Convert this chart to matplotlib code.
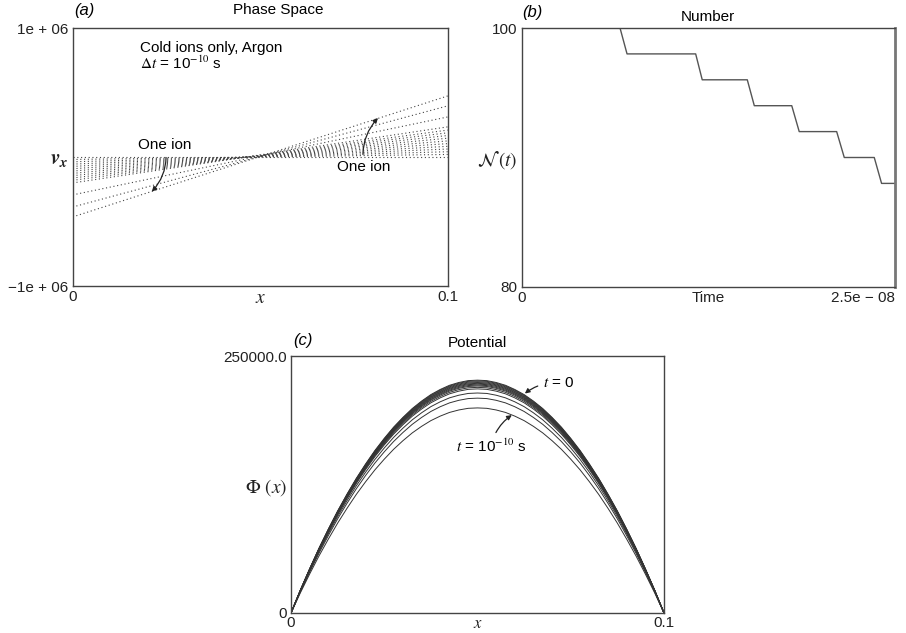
import matplotlib
matplotlib.use("Agg")
import matplotlib.pyplot as plt
import numpy as np

plt.rcParams['font.family'] = ['Liberation Sans', 'DejaVu Sans']
plt.rcParams['mathtext.fontset'] = 'stix'

# (a) phase space: ion velocity at the left (x=0) and right (x=0.1) edge per snapshot
x_ends = [0.0, 0.1]
v_left = [0, -0.18e5, -0.36e5, -0.54e5, -0.72e5, -0.9e5, -1.08e5, -1.26e5,
          -1.44e5, -1.62e5, -1.8e5, -2.0e5, -2.93e5, -3.87e5, -4.64e5]
v_right = [0, 0.21e5, 0.42e5, 0.63e5, 0.84e5, 1.05e5, 1.26e5, 1.47e5,
           1.68e5, 1.89e5, 2.1e5, 2.35e5, 3.12e5, 3.98e5, 4.75e5]

# (b) number of ions vs time
t_vals = [0, 0.657e-8, 0.704e-8, 1.164e-8, 1.208e-8, 1.51e-8, 1.557e-8,
          1.808e-8, 1.858e-8, 2.109e-8, 2.16e-8, 2.361e-8, 2.41e-8, 2.5e-8]
n_vals = [100, 100, 98, 98, 96, 96, 94, 94, 92, 92, 90, 90, 88, 88]

# (c) potential: normalised profile and peak value of each snapshot
phi_x = np.linspace(0, 0.1, 41)
phi_shape = [0, 0.098, 0.19, 0.278, 0.36, 0.438, 0.51, 0.578, 0.64, 0.698,
             0.75, 0.798, 0.84, 0.878, 0.91, 0.938, 0.96, 0.978, 0.99, 0.998,
             1.0,
             0.998, 0.99, 0.978, 0.96, 0.938, 0.91, 0.878, 0.84, 0.798, 0.75,
             0.698, 0.64, 0.578, 0.51, 0.438, 0.36, 0.278, 0.19, 0.098, 0]
phi_peaks = [226500, 225800, 225000, 224200, 223400, 222600, 221700,
             220800, 219500, 218000, 214000, 209000, 199500]

W, H = 906, 633
fig = plt.figure(figsize=(W / 100, H / 100), dpi=100)


def px_axes(l, t, r, b):
    return fig.add_axes([l / W, 1 - b / H, (r - l) / W, (b - t) / H])


def style(ax):
    for s in ax.spines.values():
        s.set_color('#444444')
        s.set_linewidth(1.0)
    ax.tick_params(length=0, pad=3, labelsize=11, colors='#222222')


ax1 = px_axes(72.7, 28.3, 447.7, 286)
ax2 = px_axes(522, 28, 895, 287)
ax3 = px_axes(291, 356, 664, 613)
for ax in (ax1, ax2, ax3):
    style(ax)

# ---- (a)
for vl, vr in zip(v_left, v_right):
    ax1.plot(x_ends, [vl, vr], color='#444444', lw=0.8,
             linestyle=(0, (1.0, 2.4)))
ax1.set_xlim(0, 0.1)
ax1.set_ylim(-1e6, 1e6)
ax1.set_xticks([0, 0.05, 0.1])
ax1.set_xticklabels(['0', r'$x$', '0.1'])
ax1.set_yticks([-1e6, 0, 1e6])
ax1.set_yticklabels(['\u22121e + 06', r'$\mathbfit{v_x}$', '1e + 06'])
ax1.get_yticklabels()[1].set_fontsize(15)
ax1.get_xticklabels()[1].set_fontsize(14)
ax1.text(0.03, 1.07, '(a)', transform=ax1.transAxes, fontsize=12,
         style='italic', ha='center', va='center')
ax1.text(0.548, 1.07, 'Phase Space', transform=ax1.transAxes, fontsize=11,
         ha='center', va='center')
ax1.text(0.018, 0.848e6, 'Cold ions only, Argon', fontsize=11,
         ha='left', va='center')
ax1.text(0.018, 0.73e6, r'$\Delta t$ = 10$^{-10}$ s', fontsize=11,
         ha='left', va='center')
arrow = dict(arrowstyle='-|>', color='#222222', lw=0.9,
             mutation_scale=7, shrinkA=2, shrinkB=0)
ax1.annotate('One ion', xy=(0.0211, -0.268e6), xytext=(0.0246, 0.095e6),
             fontsize=11, ha='center', va='center',
             arrowprops=dict(arrow, connectionstyle='arc3,rad=-0.25'))
ax1.annotate('One ion', xy=(0.0814, 0.304e6), xytext=(0.0777, -0.076e6),
             fontsize=11, ha='center', va='center',
             arrowprops=dict(arrow, connectionstyle='arc3,rad=-0.25'))

# ---- (b)
ax2.plot(t_vals, n_vals, color='#555555', lw=1.0)
ax2.set_xlim(0, 2.5e-8)
ax2.set_ylim(80, 100)
ax2.set_xticks([0, 1.25e-8, 2.5e-8])
ax2.set_xticklabels(['0', 'Time', '2.5e \u2212 08'])
ax2.get_xticklabels()[2].set_ha('right')
ax2.set_yticks([80, 90, 100])
ax2.set_yticklabels(['80', r'$\mathcal{N}\,(t)$', '100'])
ax2.get_yticklabels()[1].set_fontsize(14)
ax2.spines['right'].set_linewidth(2.0)
ax2.spines['right'].set_color('#777777')
ax2.text(0.027, 1.058, '(b)', transform=ax2.transAxes, fontsize=12,
         style='italic', ha='center', va='center')
ax2.text(0.499, 1.042, 'Number', transform=ax2.transAxes, fontsize=11,
         ha='center', va='center')

# ---- (c)
for peak in phi_peaks:
    ax3.plot(phi_x, [peak * s for s in phi_shape], color='#333333', lw=0.7)
ax3.set_xlim(0, 0.1)
ax3.set_ylim(0, 250000)
ax3.set_xticks([0, 0.05, 0.1])
ax3.set_xticklabels(['0', r'$x$', '0.1'])
ax3.get_xticklabels()[1].set_fontsize(12)
ax3.tick_params(axis='x', pad=2)
ax3.set_yticks([0, 125000, 250000])
ax3.set_yticklabels(['0', r'$\Phi\ (x)$', '250000.0'])
ax3.get_yticklabels()[1].set_fontsize(14)
ax3.text(0.032, 1.062, '(c)', transform=ax3.transAxes, fontsize=12,
         style='italic', ha='center', va='center')
ax3.text(0.499, 1.05, 'Potential', transform=ax3.transAxes, fontsize=11,
         ha='center', va='center')
ax3.annotate(r'$t$ = 0', xy=(0.0627, 213500), xytext=(0.0676, 223500),
             fontsize=11, ha='left', va='center',
             arrowprops=dict(arrow, connectionstyle='arc3,rad=0.2'))
ax3.annotate(r'$t$ = 10$^{-10}$ s', xy=(0.0592, 192500),
             xytext=(0.0536, 162000), fontsize=11, ha='center', va='center',
             arrowprops=dict(arrow, connectionstyle='arc3,rad=-0.2'))

fig.savefig('out.png', dpi=100)
